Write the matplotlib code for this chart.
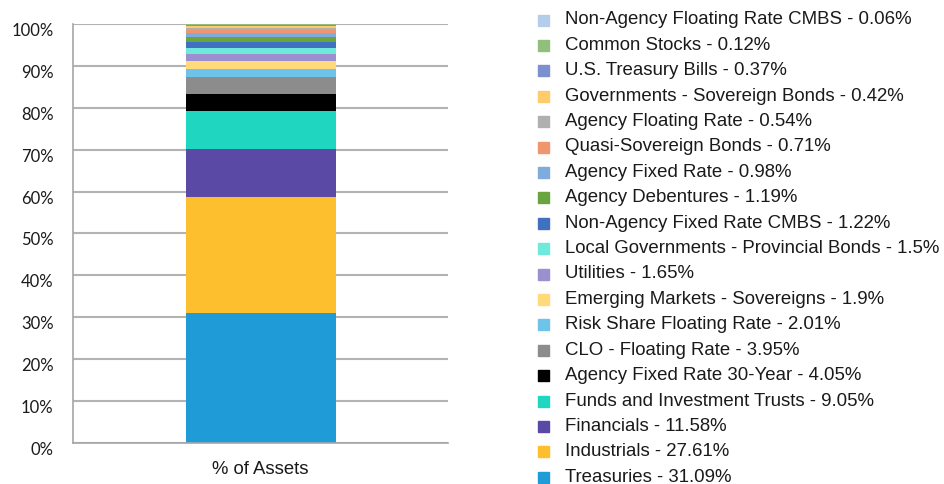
import matplotlib
matplotlib.use("Agg")
import matplotlib.pyplot as plt
from matplotlib.patches import Rectangle
from matplotlib.ticker import PercentFormatter
from matplotlib.transforms import ScaledTranslation

# Portfolio composition, stacked from the bottom up
sectors = [
    "Treasuries",
    "Industrials",
    "Financials",
    "Funds and Investment Trusts",
    "Agency Fixed Rate 30-Year",
    "CLO - Floating Rate",
    "Risk Share Floating Rate",
    "Emerging Markets - Sovereigns",
    "Utilities",
    "Local Governments - Provincial Bonds",
    "Non-Agency Fixed Rate CMBS",
    "Agency Debentures",
    "Agency Fixed Rate",
    "Quasi-Sovereign Bonds",
    "Agency Floating Rate",
    "Governments - Sovereign Bonds",
    "U.S. Treasury Bills",
    "Common Stocks",
    "Non-Agency Floating Rate CMBS",
]
weights = [31.09, 27.61, 11.58, 9.05, 4.05, 3.95, 2.01, 1.9, 1.65, 1.5,
           1.22, 1.19, 0.98, 0.71, 0.54, 0.42, 0.37, 0.12, 0.06]
weight_labels = ["31.09", "27.61", "11.58", "9.05", "4.05", "3.95", "2.01",
                 "1.9", "1.65", "1.5", "1.22", "1.19", "0.98", "0.71", "0.54",
                 "0.42", "0.37", "0.12", "0.06"]
colors = ["#1f9bd7", "#fdbf2d", "#5b4aa5", "#1fd6c0", "#000000", "#8c8c8c",
          "#6ec3ea", "#ffd97a", "#9b8fd0", "#6fe9dc", "#4070c0", "#6aa43f",
          "#7fabdd", "#f0966e", "#b0b0b0", "#ffcb6b", "#7c90d0", "#8fbf7a",
          "#b4cde8"]
category = "% of Assets"

W, H = 944, 484
fig = plt.figure(figsize=(W / 100, H / 100), dpi=100)
ax = fig.add_axes([73 / W, 1 - 443 / H, 375 / W, 419 / H])

bottom = 0.0
for w, c in zip(weights, colors):
    ax.bar(0, w, bottom=bottom, width=0.4, color=c, linewidth=0, zorder=3)
    bottom += w

ax.set_xlim(-0.5, 0.5)
ax.set_ylim(0, 100)
ax.set_yticks(range(0, 101, 10))
ax.yaxis.set_major_formatter(PercentFormatter(decimals=0))
ax.set_xticks([0])
ax.set_xticklabels([category], fontfamily="Liberation Sans", fontsize=13.3,
                   color="#1a1a1a")
ax.tick_params(axis="both", length=0)
ax.tick_params(axis="y", pad=14)
ax.tick_params(axis="x", pad=13)

# percent labels sit a little below their gridlines
shift = ScaledTranslation(0, -0.055, fig.dpi_scale_trans)
for lbl in ax.get_yticklabels():
    lbl.set_fontfamily("Lato")
    lbl.set_fontsize(12)
    lbl.set_color("#1a1a1a")
    lbl.set_transform(lbl.get_transform() + shift)

ax.grid(axis="y", color="#b3b3b3", linewidth=1.5, zorder=0)
for side in ("top", "right"):
    ax.spines[side].set_visible(False)
for side in ("left", "bottom"):
    ax.spines[side].set_color("#a6a6a6")
    ax.spines[side].set_linewidth(1.2)
    ax.spines[side].set_zorder(4)

# Legend, largest holding at the bottom
y0, step = 20, 25.4
for i, k in enumerate(reversed(range(len(sectors)))):
    y = y0 + i * step
    fig.patches.append(Rectangle((538 / W, 1 - (y + 5.5) / H), 11 / W, 11 / H,
                                 transform=fig.transFigure, color=colors[k]))
    fig.text(565 / W, 1 - y / H, f"{sectors[k]} - {weight_labels[k]}%",
             ha="left", va="center", fontfamily="Liberation Sans",
             fontsize=13.4, color="#1a1a1a")

fig.savefig("out.png", dpi=100)
